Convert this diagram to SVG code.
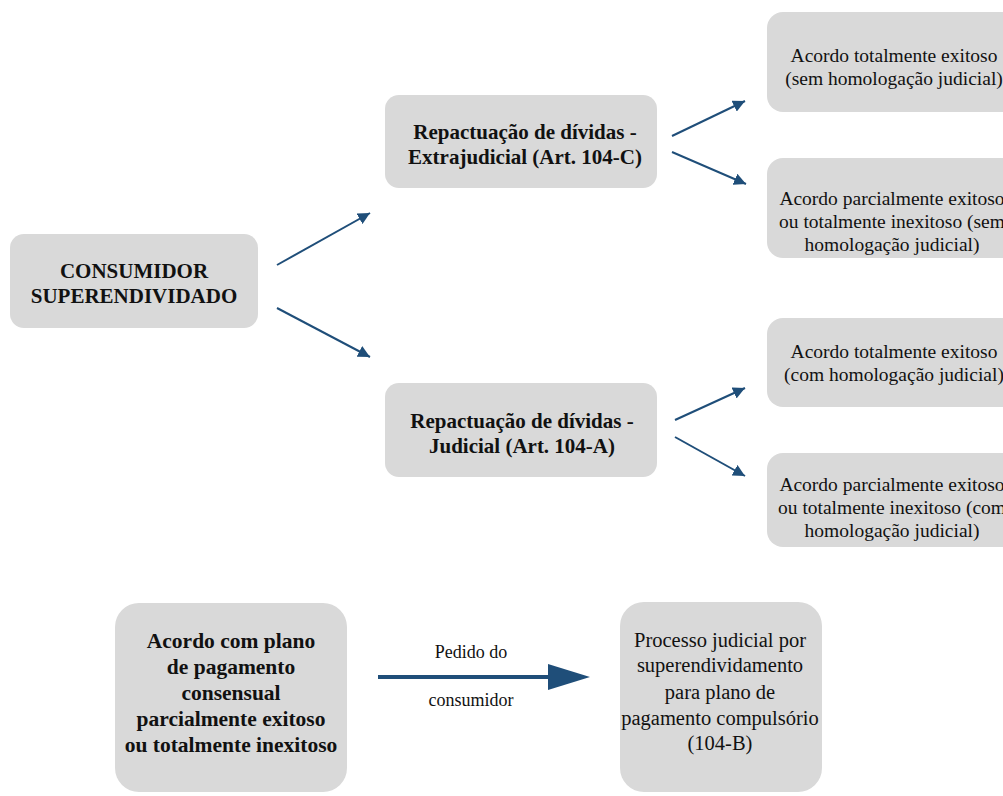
<svg xmlns="http://www.w3.org/2000/svg" width="1003" height="796" viewBox="0 0 1003 796">
<style>
.box{fill:#d9d9d9;}
text{font-family:"Liberation Serif",serif;fill:#111;text-anchor:middle;}
.b{font-weight:bold;font-size:21px;}
.b2{font-weight:bold;font-size:21.5px;}
.r{font-size:19.5px;}
.r2{font-size:20.5px;}
.lbl{font-size:18px;}
.c{stroke:#1f4e79;stroke-width:2;fill:none;marker-end:url(#ah);}
</style>
<defs>
<marker id="ah" markerUnits="userSpaceOnUse" markerWidth="14" markerHeight="12" refX="12" refY="6" orient="auto">
<path d="M0,0 L12,6 L0,12 z" fill="#1f4e79"/>
</marker>
</defs>
<rect width="1003" height="796" fill="#ffffff"/>
<g id="n-consumidor">
<rect class="box" x="10" y="234" width="248" height="94" rx="14"/>
<text class="b" x="134" y="278">CONSUMIDOR</text>
<text class="b" x="134" y="303">SUPERENDIVIDADO</text>
</g>
<g id="n-extrajudicial">
<rect class="box" x="385" y="95" width="272" height="93" rx="14"/>
<text class="b" x="525" y="139">Repactuação de dívidas -</text>
<text class="b" x="525" y="164">Extrajudicial (Art. 104-C)</text>
</g>
<g id="n-judicial">
<rect class="box" x="385" y="383" width="272" height="94" rx="14"/>
<text class="b" x="522" y="428">Repactuação de dívidas -</text>
<text class="b" x="522" y="453">Judicial (Art. 104-A)</text>
</g>
<g id="n-a1">
<rect class="box" x="767" y="12" width="260" height="100" rx="16"/>
<text class="r" x="894" y="62">Acordo totalmente exitoso</text>
<text class="r" x="894" y="85">(sem homologação judicial)</text>
</g>
<g id="n-a2">
<rect class="box" x="767" y="158" width="260" height="100" rx="16"/>
<text class="r" x="892" y="205">Acordo parcialmente exitoso</text>
<text class="r" x="892" y="228">ou totalmente inexitoso (sem</text>
<text class="r" x="892" y="251">homologação judicial)</text>
</g>
<g id="n-a3">
<rect class="box" x="767" y="318" width="260" height="89" rx="16"/>
<text class="r" x="894" y="358">Acordo totalmente exitoso</text>
<text class="r" x="894" y="381">(com homologação judicial)</text>
</g>
<g id="n-a4">
<rect class="box" x="767" y="453" width="260" height="94" rx="16"/>
<text class="r" x="892" y="491">Acordo parcialmente exitoso</text>
<text class="r" x="892" y="514">ou totalmente inexitoso (com</text>
<text class="r" x="892" y="537">homologação judicial)</text>
</g>
<g id="n-acordo">
<rect class="box" x="115" y="603" width="232" height="189" rx="24"/>
<text class="b2" x="231" y="648">Acordo com plano</text>
<text class="b2" x="231" y="674">de pagamento</text>
<text class="b2" x="231" y="700">consensual</text>
<text class="b2" x="231" y="726">parcialmente exitoso</text>
<text class="b2" x="231" y="752">ou totalmente inexitoso</text>
</g>
<g id="n-processo">
<rect class="box" x="620" y="602" width="202" height="190" rx="24"/>
<text class="r2" x="720" y="647">Processo judicial por</text>
<text class="r2" x="720" y="672">superendividamento</text>
<text class="r2" x="720" y="699">para plano de</text>
<text class="r2" x="720" y="725">pagamento compulsório</text>
<text class="r2" x="720" y="750">(104-B)</text>
</g>
<g id="connectors">
<line class="c" x1="277" y1="265" x2="370" y2="213"/>
<line class="c" x1="277" y1="308" x2="370" y2="357"/>
<line class="c" x1="672" y1="136" x2="745" y2="101"/>
<line class="c" x1="672" y1="152" x2="746" y2="184"/>
<line class="c" x1="675" y1="420" x2="745" y2="388"/>
<line class="c" x1="675" y1="437" x2="745" y2="476"/>
<line x1="378" y1="677" x2="552" y2="677" stroke="#1f4e79" stroke-width="4"/>
<path d="M548,664 L590,677 L548,690 z" fill="#1f4e79"/>
<text class="lbl" x="471" y="658">Pedido do</text>
<text class="lbl" x="471" y="706">consumidor</text>
</g>
</svg>
